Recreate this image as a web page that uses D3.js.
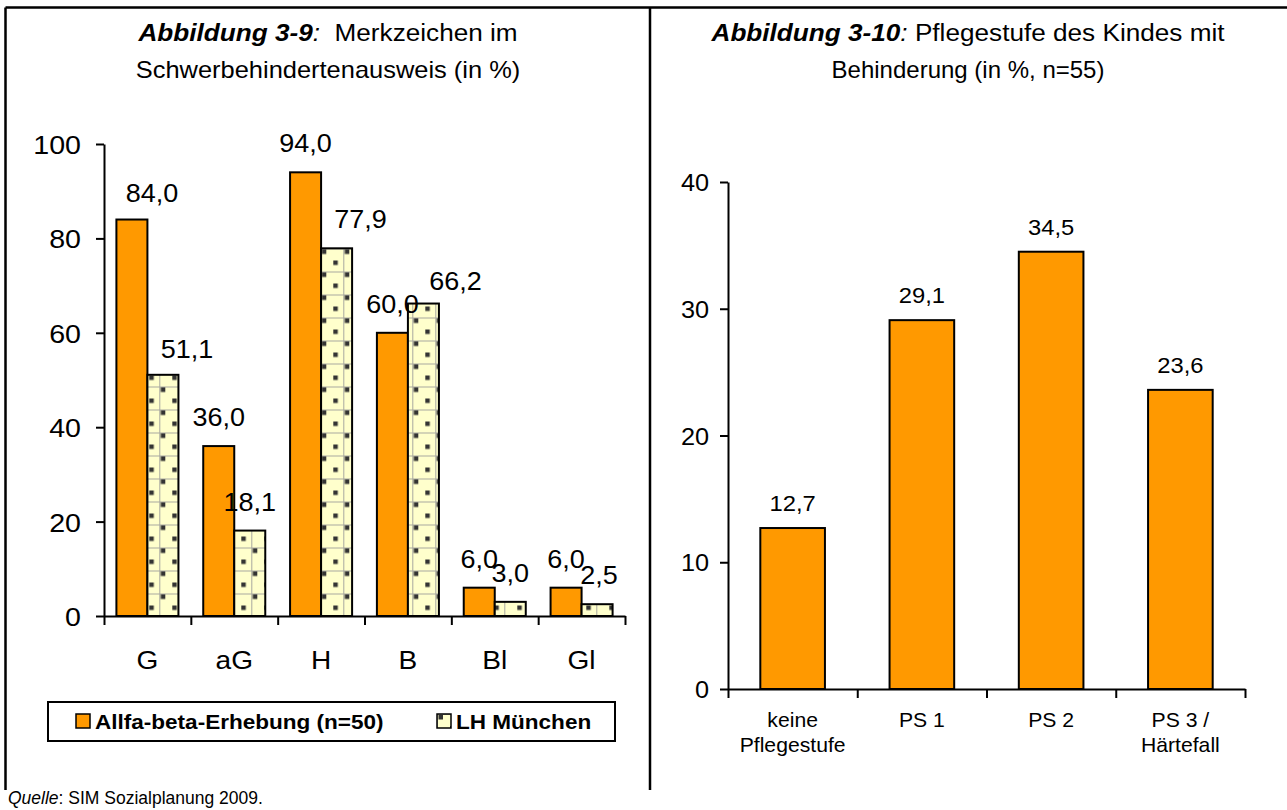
<!DOCTYPE html>
<html><head><meta charset="utf-8">
<script src="https://cdn.jsdelivr.net/npm/d3@7"></script>
<style>
html,body{margin:0;padding:0;background:#fff;}
svg{display:block;font-family:"Liberation Sans",Arial,sans-serif;}
</style></head><body>
<svg id="c" width="1287" height="810"></svg>
<script>
// ---------- data ----------
const merkCategories = ["G", "aG", "H", "B", "Bl", "Gl"];
const seriesNames = ["Allfa-beta-Erhebung (n=50)", "LH München"];
const allfaValues = [84.0, 36.0, 94.0, 60.0, 6.0, 6.0];
const lhValues = [51.1, 18.1, 77.9, 66.2, 3.0, 2.5];
const leftTicks = [0, 20, 40, 60, 80, 100];

const pflegeCategories = ["keine|Pflegestufe", "PS 1", "PS 2", "PS 3 /|Härtefall"];
const pflegeValues = [12.7, 29.1, 34.5, 23.6];
const rightTicks = [0, 10, 20, 30, 40];

// manual nudges of some value labels in the original (dx, dy)
const allfaLabelShift = [[20, 2], [0, 0], [0, 0], [0, 0], [0, 0], [0, 0]];
const lhLabelShift = [[24, 3], [0, 0], [24, 0], [32, 6], [0, 0], [2, 0]];

// ---------- setup ----------
const svg = d3.select("#c");
const ORANGE = "#FF9900";
const fmt = v => d3.format(".1f")(v).replace(".", ",");
const SX = 1.08;

const defs = svg.append("defs");
function makePattern(id, ox, oy) {
  const p = defs.append("pattern").attr("id", id).attr("patternUnits", "userSpaceOnUse")
    .attr("width", 23).attr("height", 23).attr("x", ox).attr("y", oy);
  p.append("rect").attr("width", 23).attr("height", 23).attr("fill", "#FFFFCC");
  p.append("path").attr("d", "M0,0.5H23M0.5,0V23").attr("stroke", "#a8a8a0").attr("stroke-width", 1);
  p.append("rect").attr("x", 1.5).attr("y", 1).attr("width", 4.5).attr("height", 4.5).attr("fill", "#333");
  p.append("rect").attr("x", 13).attr("y", 12).attr("width", 4.5).attr("height", 4.5).attr("fill", "#333");
}
makePattern("dots", 21.3, 18.5);

function stext(g, x, y, s, size, anchor, sx) {
  return g.append("text")
    .attr("transform", `translate(${x},${y}) scale(${sx || SX},1)`)
    .attr("text-anchor", anchor || "middle")
    .style("font-size", size + "px")
    .attr("fill", "#000")
    .text(s);
}

// ---------- frame ----------
svg.append("path").attr("d", "M5.5,7.5H1287M5.5,7.5V790M650,7.5V790")
  .attr("stroke", "#000").attr("stroke-width", 2.5).attr("fill", "none");

// ---------- titles ----------
function title(cx, y, boldPart, rest) {
  const t = svg.append("text").attr("transform", `translate(${cx},${y}) scale(1.09,1)`)
    .attr("text-anchor", "middle").style("font-size", "24px").attr("xml:space", "preserve");
  t.append("tspan").style("font-weight", "bold").style("font-style", "italic").text(boldPart);
  t.append("tspan").style("font-style", "italic").text(":");
  t.append("tspan").text(rest);
  return t;
}
title(328, 41, "Abbildung 3-9", "\u00a0 Merkzeichen im");
stext(svg, 328, 78, "Schwerbehindertenausweis (in %)", 24, "middle", 1.06);
title(968, 41, "Abbildung 3-10", " Pflegestufe des Kindes mit");
stext(svg, 968, 78, "Behinderung (in %, n=55)", 24, "middle", 1.0);

// ---------- left chart ----------
const L = { x0: 104, x1: 625, y0: 616, y1: 144 };
const xL = d3.scaleBand().domain(merkCategories).range([L.x0, L.x1]).padding(0);
const xS = d3.scaleBand().domain([0, 1]).range([0, xL.bandwidth()]).paddingInner(0).paddingOuter(0.4);
const yL = d3.scaleLinear().domain([0, 100]).range([L.y0, L.y1]);

const gL = svg.append("g");
const leftData = merkCategories.map((c, i) => ({ c, i, vals: [allfaValues[i], lhValues[i]] }));
const fills = [ORANGE, "url(#dots)"];
const shifts = [allfaLabelShift, lhLabelShift];

[0, 1].forEach(s => {
  gL.selectAll(null).data(leftData).join("rect")
    .attr("x", d => xL(d.c) + xS(s))
    .attr("y", d => yL(d.vals[s]))
    .attr("width", xS.bandwidth())
    .attr("height", d => yL(0) - yL(d.vals[s]))
    .attr("fill", fills[s]).attr("stroke", "#000").attr("stroke-width", 2);
});
[0, 1].forEach(s => {
  gL.selectAll(null).data(leftData).join("text")
    .attr("transform", d => `translate(${xL(d.c) + xS(s) + xS.bandwidth() / 2 + shifts[s][d.i][0]},${yL(d.vals[s]) - 20 + shifts[s][d.i][1]}) scale(${SX},1)`)
    .attr("text-anchor", "middle").style("font-size", "25px")
    .text(d => fmt(d.vals[s]));
});

// y axis
const gyL = gL.append("g").attr("transform", `translate(${L.x0},0)`)
  .call(d3.axisLeft(yL).tickValues(leftTicks).tickSize(8).tickSizeOuter(0).tickFormat(d3.format("d")));
gyL.select(".domain").attr("stroke", "#000").attr("stroke-width", 2);
gyL.selectAll(".tick line").attr("stroke", "#000").attr("stroke-width", 2);
gyL.selectAll(".tick text").attr("x", null).attr("dy", null)
  .attr("transform", `translate(-23,9.5) scale(1.1,1)`).style("font-size", "26px").attr("fill", "#000");

// x axis (ticks at category boundaries)
const bL = d3.scaleLinear().domain([0, merkCategories.length]).range([L.x0, L.x1]);
const gxL = gL.append("g").attr("transform", `translate(0,${L.y0})`)
  .call(d3.axisBottom(bL).ticks(merkCategories.length).tickSize(9).tickSizeOuter(0).tickFormat(""));
gxL.select(".domain").attr("stroke", "#000").attr("stroke-width", 2);
gxL.selectAll(".tick line").attr("stroke", "#000").attr("stroke-width", 2);
gL.selectAll(null).data(merkCategories).join("text")
  .attr("transform", d => `translate(${xL(d) + xL.bandwidth() / 2},669) scale(${SX},1)`)
  .attr("text-anchor", "middle").style("font-size", "26px").text(d => d);

// legend
const lg = svg.append("g");
lg.append("rect").attr("x", 48).attr("y", 702).attr("width", 567).attr("height", 39)
  .attr("fill", "#fff").attr("stroke", "#000").attr("stroke-width", 2);
makePattern("dotsLeg", 437, 714);
const legItems = [{ x: 76, fill: ORANGE, name: seriesNames[0] }, { x: 437, fill: "url(#dotsLeg)", name: seriesNames[1] }];
legItems.forEach(it => {
  lg.append("rect").attr("x", it.x).attr("y", 714).attr("width", 14).attr("height", 14)
    .attr("fill", it.fill).attr("stroke", "#000").attr("stroke-width", 1.5);
  stext(lg, it.x + 19, 729, it.name, 20.5, "start", 1.1).style("font-weight", "bold");
});

// source
const src = svg.append("text").attr("x", 8).attr("y", 804).style("font-size", "17.5px");
src.append("tspan").style("font-style", "italic").text("Quelle");
src.append("tspan").text(": SIM Sozialplanung 2009.");

// ---------- right chart ----------
const R = { x0: 728, x1: 1245, y0: 689, y1: 182 };
const xR = d3.scaleBand().domain(pflegeCategories).range([R.x0, R.x1]).paddingInner(0.5).paddingOuter(0.25);
const yR = d3.scaleLinear().domain([0, 40]).range([R.y0, R.y1]);
const gR = svg.append("g");
const rightData = pflegeCategories.map((c, i) => ({ c, v: pflegeValues[i] }));

gR.selectAll(null).data(rightData).join("rect")
  .attr("x", d => xR(d.c)).attr("y", d => yR(d.v))
  .attr("width", xR.bandwidth()).attr("height", d => yR(0) - yR(d.v))
  .attr("fill", ORANGE).attr("stroke", "#000").attr("stroke-width", 2);
gR.selectAll(null).data(rightData).join("text")
  .attr("transform", d => `translate(${xR(d.c) + xR.bandwidth() / 2},${yR(d.v) - 17}) scale(${SX},1)`)
  .attr("text-anchor", "middle").style("font-size", "22px").text(d => fmt(d.v));

const gyR = gR.append("g").attr("transform", `translate(${R.x0},0)`)
  .call(d3.axisLeft(yR).tickValues(rightTicks).tickSize(8).tickSizeOuter(0).tickFormat(d3.format("d")));
gyR.select(".domain").attr("stroke", "#000").attr("stroke-width", 2);
gyR.selectAll(".tick line").attr("stroke", "#000").attr("stroke-width", 2);
gyR.selectAll(".tick text").attr("x", null).attr("dy", null)
  .attr("transform", `translate(-19,8.5) scale(1.1,1)`).style("font-size", "23px").attr("fill", "#000");

const bR = d3.scaleLinear().domain([0, pflegeCategories.length]).range([R.x0, R.x1]);
const gxR = gR.append("g").attr("transform", `translate(0,${R.y0})`)
  .call(d3.axisBottom(bR).ticks(pflegeCategories.length).tickSize(9).tickSizeOuter(0).tickFormat(""));
gxR.select(".domain").attr("stroke", "#000").attr("stroke-width", 2);
gxR.selectAll(".tick line").attr("stroke", "#000").attr("stroke-width", 2);
pflegeCategories.forEach(c => {
  c.split("|").forEach((line, k) => {
    stext(gR, xR(c) + xR.bandwidth() / 2, 727 + k * 24.5, line, 20, "middle", 1.06);
  });
});
</script>
</body></html>
